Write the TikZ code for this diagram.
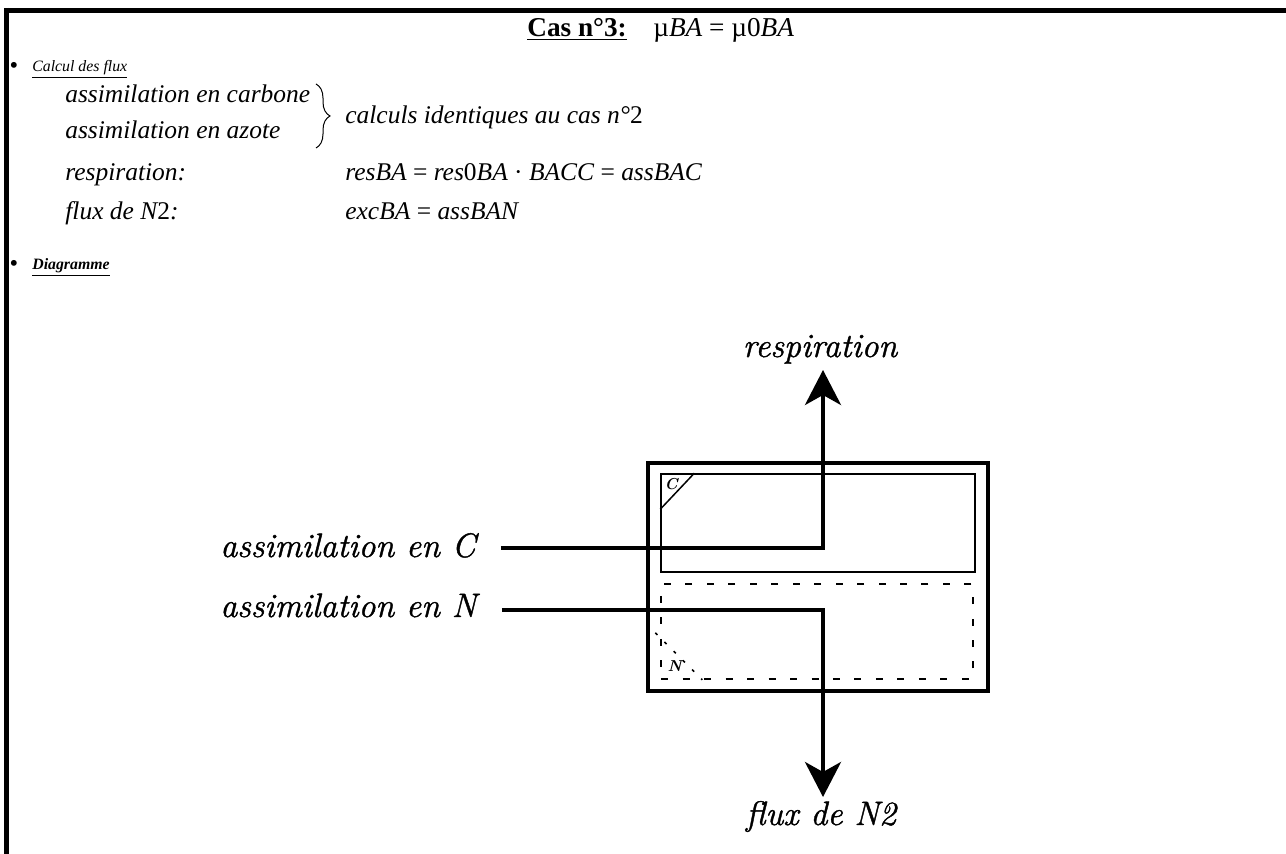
\documentclass[tikz,border=0pt]{standalone}
\usepackage{fontspec}
\newfontfamily\tnr{Liberation Serif}
\newfontfamily\diagfont[FakeBold=1.2]{Latin Modern Roman}
\usepackage{tikz}
\usetikzlibrary{arrows.meta,positioning,decorations.pathreplacing}
\newcommand{\mvar}[1]{\textit{#1}}
\tikzset{
  frameln/.style={line width=0.1cm},
  flowln/.style={line width=0.08cm},
  flowarr/.style={flowln,-{Stealth[length=0.7cm,width=0.72cm,inset=0.2cm]}},
  cellbox/.style={draw,line width=0.08cm,minimum width=6.8cm,minimum height=4.58cm,inner sep=0pt},
  compC/.style={draw,line width=0.03cm,minimum width=6.28cm,minimum height=1.96cm,inner sep=0pt},
  compN/.style={draw,line width=0.03cm,dash pattern=on 0.14cm off 0.29cm,minimum width=6.24cm,minimum height=1.9cm,inner sep=0pt},
  cornerln/.style={line width=0.03cm},
  cornerlab/.style={font=\bfseries\itshape\fontsize{9}{9}\selectfont,inner sep=0pt},
  titletxt/.style={font=\tnr\fontsize{15.5}{18}\selectfont,inner sep=0pt},
  headtxt/.style={font=\tnr\itshape\fontsize{9}{11}\selectfont,inner sep=0pt},
  bultxt/.style={font=\tnr\fontsize{14}{14}\selectfont,inner sep=0pt},
  bodytxt/.style={font=\tnr\itshape\fontsize{14.5}{17}\selectfont,inner sep=0pt},
  bracel/.style={line width=0.02cm,decorate,decoration={brace,amplitude=0.28cm}},
  diaglab/.style={font=\diagfont\itshape\fontsize{19.3}{23}\selectfont,inner sep=0pt},
}
\begin{document}
\begin{tikzpicture}[x=0.02cm,y=-0.02cm]
  \useasboundingbox (0,0) rectangle (1286,854);
  % cadre
  \draw[frameln] (4,10.5) -- (1286,10.5);
  \draw[frameln] (6.5,8) -- (6.5,854);
  % titre
  \node[titletxt,anchor=base west] (cas) at (527,37) {\underline{\bfseries Cas n°3:}};
  \node[titletxt,anchor=base west] (mu) at (653,37) {µ\mvar{BA} = µ0\mvar{BA}};
  % calcul des flux
  \node[bultxt] (bul1) at (14,68) {\textbullet};
  \node[headtxt,anchor=base west] (calc) at (32,72) {\underline{Calcul des flux}};
  \node[bodytxt,anchor=base west] (assC) at (65,103) {assimilation en carbone};
  \node[bodytxt,anchor=base west] (assN) at (65,139) {assimilation en azote};
  \coordinate (brT) at (316,84);
  \coordinate (brB) at (316,148);
  \draw[bracel] (brT) -- (brB);
  \node[bodytxt,anchor=base west] (ident) at (345,124) {calculs identiques au cas n°{\upshape 2}};
  \node[bodytxt,anchor=base west] (resp1) at (65,181) {respiration:};
  \node[bodytxt,anchor=base west] (resp2) at (345,181)
    {\mvar{resBA} {\upshape =} \mvar{res}{\upshape 0}\mvar{BA} {\upshape ·} \mvar{BACC} {\upshape =} \mvar{assBAC}};
  \node[bodytxt,anchor=base west] (flux1) at (65,220) {flux de \mvar{N}{\upshape 2}:};
  \node[bodytxt,anchor=base west] (flux2) at (345,220) {\mvar{excBA} {\upshape =} \mvar{assBAN}};
  % diagramme
  \node[bultxt] (bul2) at (14,266) {\textbullet};
  \node[headtxt,anchor=base west] (diag) at (32,270) {\underline{\bfseries Diagramme}};
  \node[cellbox] (cell) at (818,577) {};
  \node[compC] (cC) at (818,523) {};
  \node[compN] (cN) at (817,631.5) {};
  \draw[cornerln] ([yshift=-0.72cm]cC.north west) -- ([xshift=0.68cm]cC.north west);
  \node[cornerlab,anchor=north west] (labC) at ([xshift=0.08cm,yshift=-0.1cm]cC.north west) {C};
  \draw[cornerln,dash pattern=on 0.06cm off 0.2cm] ([xshift=-0.1cm,yshift=0.94cm]cN.south west) -- ([xshift=0.84cm]cN.south west);
  \node[cornerlab,anchor=south west] (labN) at ([xshift=0.14cm,yshift=0.16cm]cN.south west) {N};
  % flux
  \node[diaglab,anchor=base west] (asC) at (220,557) {assimilation en C};
  \node[diaglab,anchor=base west] (asN) at (220,617) {assimilation en N};
  \node[diaglab,anchor=base] (resp) at (820,357) {respiration};
  \node[diaglab,anchor=base] (fN2) at (821,825) {flux de N2};
  \coordinate (kC) at (823,548);
  \coordinate (kN) at (823,610);
  \coordinate (tC) at (823,370);
  \coordinate (tN) at (823,797);
  \draw[flowarr] ([xshift=0.5cm]asC.east |- kC) -- (kC) -- (tC);
  \draw[flowarr] ([xshift=0.5cm]asN.east |- kN) -- (kN) -- (tN);
\end{tikzpicture}
\end{document}
